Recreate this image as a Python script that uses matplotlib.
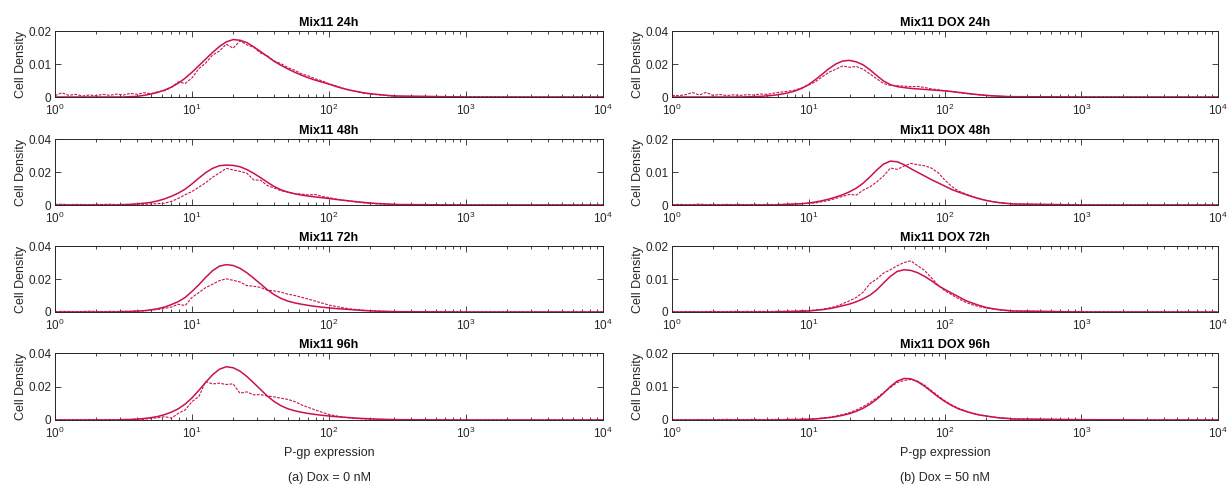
import numpy as np
import matplotlib
matplotlib.use("Agg")
import matplotlib.pyplot as plt
from matplotlib.ticker import LogLocator, FixedLocator, FuncFormatter, NullFormatter, NullLocator

plt.rcParams["font.family"] = ["Liberation Sans", "DejaVu Sans"]
plt.rcParams["mathtext.fontset"] = "custom"
plt.rcParams["mathtext.rm"] = "Liberation Sans"
plt.rcParams["mathtext.it"] = "Liberation Sans:italic"

RED = "#c8124c"
INK = "#262626"

# x sample positions (log10 of P-gp expression) at which values were read
LOG_X = np.round(np.concatenate([np.arange(0, 2.51, 0.05), [3.0, 3.5, 4.0]]), 2)

# ── Dox = 0 nM ───────────────────────────────────────────────────────────────
L24_FIT = [0, 0, 0, 0, 0, 0, 0, 0, 0, 0, 0,
           0.0001, 0.0002, 0.0005, 0.0009, 0.0014, 0.0021, 0.0030, 0.0042, 0.0057,
           0.0075, 0.0095, 0.0115, 0.0135, 0.0153, 0.0167, 0.0174, 0.0172, 0.0165, 0.0152,
           0.0138, 0.0123, 0.0108, 0.0096, 0.0085, 0.0075, 0.0066, 0.0058, 0.0051, 0.0045,
           0.0039, 0.0032, 0.0026, 0.0021, 0.0017, 0.0013, 0.0010, 0.0008, 0.0006, 0.0004,
           0.0003, 0, 0, 0]
L24_DATA = [0.0004, 0.0013, 0.0005, 0.0008, 0.0003, 0.0006, 0.0004, 0.0008, 0.0005, 0.0009, 0.0006,
            0.0011, 0.0008, 0.0013, 0.0010, 0.0016, 0.0019, 0.0029, 0.0046, 0.0041,
            0.0058, 0.0086, 0.0103, 0.0127, 0.0139, 0.0160, 0.0148, 0.0170, 0.0158, 0.0151,
            0.0133, 0.0125, 0.0109, 0.0101, 0.0089, 0.0081, 0.0070, 0.0064, 0.0055, 0.0049,
            0.0040, 0.0034, 0.0027, 0.0021, 0.0016, 0.0012, 0.0009, 0.0007, 0.0005, 0.0003,
            0.0002, 0.0001, 0, 0]

L48_FIT = [0, 0, 0, 0, 0, 0, 0, 0, 0, 0, 0.0002,
           0.0004, 0.0007, 0.0011, 0.0016, 0.0025, 0.0037, 0.0053, 0.0072, 0.0096,
           0.0128, 0.0163, 0.0196, 0.0222, 0.0238, 0.0242, 0.0240, 0.0232, 0.0215, 0.0192,
           0.0166, 0.0138, 0.0112, 0.0092, 0.0078, 0.0068, 0.0060, 0.0054, 0.0049, 0.0044,
           0.0039, 0.0034, 0.0029, 0.0025, 0.0020, 0.0016, 0.0012, 0.0009, 0.0007, 0.0005,
           0.0003, 0, 0, 0]
L48_DATA = [0.0003, 0.0005, 0.0002, 0.0004, 0.0003, 0.0002, 0.0004, 0.0003, 0.0005, 0.0002, 0.0004,
            0.0003, 0.0005, 0.0004, 0.0006, 0.0008, 0.0011, 0.0022, 0.0040, 0.0062,
            0.0082, 0.0108, 0.0135, 0.0168, 0.0195, 0.0222, 0.0212, 0.0204, 0.0193, 0.0152,
            0.0150, 0.0118, 0.0103, 0.0086, 0.0078, 0.0069, 0.0066, 0.0061, 0.0064, 0.0052,
            0.0045, 0.0036, 0.0030, 0.0023, 0.0018, 0.0013, 0.0010, 0.0007, 0.0005, 0.0004,
            0.0002, 0.0001, 0, 0]

L72_FIT = [0, 0, 0, 0, 0, 0, 0, 0, 0, 0, 0.0002,
           0.0003, 0.0005, 0.0008, 0.0013, 0.0020, 0.0030, 0.0045, 0.0063, 0.0088,
           0.0125, 0.0165, 0.0210, 0.0250, 0.0278, 0.0287, 0.0282, 0.0265, 0.0238, 0.0205,
           0.0170, 0.0135, 0.0105, 0.0082, 0.0066, 0.0055, 0.0047, 0.0040, 0.0034, 0.0029,
           0.0025, 0.0021, 0.0018, 0.0015, 0.0012, 0.0009, 0.0007, 0.0005, 0.0004, 0.0003,
           0.0002, 0, 0, 0]
L72_DATA = [0.0002, 0.0004, 0.0003, 0.0002, 0.0003, 0.0005, 0.0003, 0.0002, 0.0004, 0.0003, 0.0005,
            0.0004, 0.0008, 0.0006, 0.0011, 0.0015, 0.0022, 0.0030, 0.0047, 0.0039,
            0.0088, 0.0118, 0.0148, 0.0168, 0.0190, 0.0201, 0.0192, 0.0182, 0.0160, 0.0156,
            0.0149, 0.0132, 0.0128, 0.0120, 0.0108, 0.0100, 0.0089, 0.0078, 0.0066, 0.0054,
            0.0042, 0.0034, 0.0026, 0.0019, 0.0015, 0.0011, 0.0008, 0.0006, 0.0004, 0.0003,
            0.0002, 0.0001, 0, 0]

L96_FIT = [0, 0, 0, 0, 0, 0, 0, 0, 0, 0, 0.0002,
           0.0003, 0.0005, 0.0009, 0.0014, 0.0021, 0.0032, 0.0047, 0.0067, 0.0095,
           0.0132, 0.0177, 0.0225, 0.0270, 0.0303, 0.0318, 0.0312, 0.0292, 0.0260, 0.0222,
           0.0182, 0.0143, 0.0110, 0.0085, 0.0067, 0.0055, 0.0046, 0.0039, 0.0033, 0.0028,
           0.0024, 0.0020, 0.0017, 0.0014, 0.0011, 0.0009, 0.0007, 0.0005, 0.0004, 0.0003,
           0.0002, 0, 0, 0]
L96_DATA = [0.0001, 0.0002, 0.0001, 0.0002, 0.0001, 0.0003, 0.0002, 0.0001, 0.0003, 0.0002, 0.0004,
            0.0003, 0.0006, 0.0004, 0.0010, 0.0013, 0.0020, 0.0011, 0.0040, 0.0060,
            0.0110, 0.0140, 0.0230, 0.0215, 0.0220, 0.0212, 0.0216, 0.0160, 0.0168, 0.0150,
            0.0152, 0.0143, 0.0138, 0.0130, 0.0123, 0.0110, 0.0090, 0.0075, 0.0060, 0.0046,
            0.0033, 0.0025, 0.0017, 0.0013, 0.0009, 0.0007, 0.0005, 0.0004, 0.0003, 0.0002,
            0.0001, 0, 0, 0]

# ── Dox = 50 nM ──────────────────────────────────────────────────────────────
D24_FIT = [0, 0, 0, 0, 0, 0, 0, 0, 0, 0, 0,
           0.0001, 0.0002, 0.0004, 0.0007, 0.0011, 0.0017, 0.0025, 0.0036, 0.0052,
           0.0075, 0.0105, 0.0138, 0.0172, 0.0200, 0.0218, 0.0222, 0.0213, 0.0195, 0.0165,
           0.0130, 0.0097, 0.0075, 0.0063, 0.0057, 0.0052, 0.0049, 0.0046, 0.0043, 0.0040,
           0.0037, 0.0033, 0.0028, 0.0023, 0.0018, 0.0014, 0.0010, 0.0007, 0.0005, 0.0003,
           0.0002, 0, 0, 0]
D24_DATA = [0.0010, 0.0008, 0.0014, 0.0027, 0.0012, 0.0028, 0.0010, 0.0015, 0.0009, 0.0013, 0.0010,
            0.0014, 0.0012, 0.0018, 0.0016, 0.0024, 0.0030, 0.0035, 0.0042, 0.0055,
            0.0072, 0.0092, 0.0122, 0.0150, 0.0168, 0.0188, 0.0180, 0.0185, 0.0168, 0.0140,
            0.0110, 0.0082, 0.0070, 0.0068, 0.0066, 0.0063, 0.0064, 0.0058, 0.0049, 0.0044,
            0.0038, 0.0033, 0.0027, 0.0022, 0.0017, 0.0013, 0.0009, 0.0007, 0.0005, 0.0003,
            0.0002, 0.0001, 0, 0]

D48_FIT = [0, 0, 0, 0, 0, 0, 0, 0, 0, 0, 0, 0, 0, 0, 0, 0,
           0.0001, 0.0002, 0.0003, 0.0004,
           0.0006, 0.0009, 0.0013, 0.0018, 0.0024, 0.0031, 0.0040, 0.0051, 0.0066, 0.0085,
           0.0106, 0.0124, 0.0133, 0.0131, 0.0122, 0.0110, 0.0099, 0.0088, 0.0077, 0.0067,
           0.0057, 0.0047, 0.0039, 0.0032, 0.0025, 0.0019, 0.0014, 0.0010, 0.0007, 0.0005,
           0.0003, 0, 0, 0]
D48_DATA = [0.0001, 0.0002, 0.0001, 0.0001, 0.0003, 0.0001, 0.0002, 0.0001, 0.0002, 0.0001, 0.0002,
            0.0001, 0.0002, 0.0001, 0.0002, 0.0001, 0.0002, 0.0003, 0.0002, 0.0004,
            0.0005, 0.0006, 0.0010, 0.0014, 0.0020, 0.0026, 0.0032, 0.0030, 0.0045, 0.0055,
            0.0070, 0.0088, 0.0112, 0.0108, 0.0118, 0.0126, 0.0122, 0.0119, 0.0112, 0.0098,
            0.0075, 0.0056, 0.0042, 0.0034, 0.0026, 0.0020, 0.0014, 0.0010, 0.0007, 0.0005,
            0.0003, 0.0001, 0, 0]

D72_FIT = [0, 0, 0, 0, 0, 0, 0, 0, 0, 0, 0, 0, 0, 0, 0, 0,
           0.0001, 0.0001, 0.0002, 0.0002,
           0.0003, 0.0005, 0.0007, 0.0010, 0.0014, 0.0019, 0.0024, 0.0031, 0.0040, 0.0051,
           0.0067, 0.0088, 0.0108, 0.0123, 0.0128, 0.0126, 0.0119, 0.0108, 0.0095, 0.0080,
           0.0068, 0.0057, 0.0046, 0.0035, 0.0027, 0.0020, 0.0014, 0.0010, 0.0007, 0.0005,
           0.0003, 0, 0, 0]
D72_DATA = [0.0001, 0.0000, 0.0001, 0.0001, 0.0000, 0.0001, 0.0002, 0.0001, 0.0001, 0.0002, 0.0001,
            0.0002, 0.0001, 0.0002, 0.0001, 0.0002, 0.0002, 0.0003, 0.0002, 0.0004,
            0.0004, 0.0006, 0.0008, 0.0012, 0.0017, 0.0025, 0.0034, 0.0044, 0.0060, 0.0086,
            0.0100, 0.0118, 0.0128, 0.0140, 0.0150, 0.0155, 0.0140, 0.0126, 0.0104, 0.0081,
            0.0064, 0.0052, 0.0040, 0.0030, 0.0022, 0.0016, 0.0012, 0.0009, 0.0006, 0.0004,
            0.0003, 0.0001, 0, 0]

D96_FIT = [0, 0, 0, 0, 0, 0, 0, 0, 0, 0, 0, 0, 0, 0, 0, 0,
           0, 0.0001, 0.0001, 0.0001,
           0.0002, 0.0003, 0.0005, 0.0007, 0.0010, 0.0014, 0.0019, 0.0026, 0.0035, 0.0047,
           0.0062, 0.0080, 0.0100, 0.0116, 0.0124, 0.0123, 0.0114, 0.0101, 0.0085, 0.0069,
           0.0055, 0.0043, 0.0033, 0.0026, 0.0020, 0.0015, 0.0012, 0.0009, 0.0006, 0.0005,
           0.0003, 0.0001, 0, 0]
D96_DATA = [0.0001, 0.0000, 0.0001, 0.0000, 0.0001, 0.0001, 0.0000, 0.0001, 0.0002, 0.0001, 0.0001,
            0.0001, 0.0002, 0.0001, 0.0001, 0.0002, 0.0001, 0.0002, 0.0002, 0.0003,
            0.0003, 0.0004, 0.0006, 0.0008, 0.0012, 0.0016, 0.0022, 0.0030, 0.0040, 0.0052,
            0.0066, 0.0082, 0.0097, 0.0112, 0.0118, 0.0121, 0.0116, 0.0104, 0.0088, 0.0072,
            0.0057, 0.0045, 0.0035, 0.0027, 0.0021, 0.0016, 0.0012, 0.0009, 0.0007, 0.0005,
            0.0003, 0.0001, 0, 0]

LEFT_TITLES = ["Mix11 24h", "Mix11 48h", "Mix11 72h", "Mix11 96h"]
RIGHT_TITLES = ["Mix11 DOX 24h", "Mix11 DOX 48h", "Mix11 DOX 72h", "Mix11 DOX 96h"]
LEFT_FITS = [L24_FIT, L48_FIT, L72_FIT, L96_FIT]
LEFT_DATA = [L24_DATA, L48_DATA, L72_DATA, L96_DATA]
RIGHT_FITS = [D24_FIT, D48_FIT, D72_FIT, D96_FIT]
RIGHT_DATA = [D24_DATA, D48_DATA, D72_DATA, D96_DATA]
LEFT_YMAX = [0.02, 0.04, 0.04, 0.04]
RIGHT_YMAX = [0.04, 0.02, 0.02, 0.02]
CAPTIONS = ["(a) Dox = 0 nM", "(b) Dox = 50 nM"]

W, H = 1232, 486
fig = plt.figure(figsize=(W / 100, H / 100), dpi=100)

COLS = [(55, 548), (672, 546)]            # left px, width px
ROWS = [(31, 97), (139, 205), (246, 312), (353, 420)]  # top px, bottom px


def yfmt(v, pos):
    return "0" if v == 0 else f"{v:g}"


def panel(col, row, title, fit, data, ymax):
    x0, w = COLS[col]
    top, bot = ROWS[row]
    ax = fig.add_axes([x0 / W, 1 - bot / H, w / W, (bot - top) / H])
    x = 10 ** LOG_X
    ax.plot(x, fit, color=RED, lw=1.1, solid_joinstyle="round")
    ax.plot(x, data, color=RED, lw=0.8, ls=(0, (2.5, 1.2)))
    ax.set_xscale("log")
    ax.set_xlim(1, 1e4)
    ax.set_ylim(0, ymax)
    ax.xaxis.set_major_locator(LogLocator(base=10, numticks=10))
    ax.xaxis.set_minor_locator(LogLocator(base=10, subs=np.arange(2, 10), numticks=50))
    ax.xaxis.set_minor_formatter(NullFormatter())
    ax.yaxis.set_major_locator(FixedLocator([0, ymax / 2, ymax]))
    ax.yaxis.set_major_formatter(FuncFormatter(yfmt))
    ax.yaxis.set_minor_locator(NullLocator())
    ax.tick_params(which="both", direction="in", top=True, right=True,
                   color=INK, labelcolor=INK, labelsize=8.5, width=0.6)
    ax.tick_params(which="major", length=4.0)
    ax.tick_params(which="minor", length=2.3)
    ax.tick_params(axis="x", which="major", pad=4.5)
    ax.tick_params(axis="y", which="major", pad=2.5)
    for s in ax.spines.values():
        s.set_color(INK)
        s.set_linewidth(0.7)
    ax.set_title(title, fontsize=9, fontweight="bold", pad=3.5)
    ax.set_ylabel("Cell Density", fontsize=9, color=INK)
    ax.yaxis.set_label_coords(-0.052, 0.5)
    if row == 3:
        ax.set_xlabel("P-gp expression", fontsize=9, color=INK, labelpad=4)
    return ax


for r in range(4):
    panel(0, r, LEFT_TITLES[r], LEFT_FITS[r], LEFT_DATA[r], LEFT_YMAX[r])
    panel(1, r, RIGHT_TITLES[r], RIGHT_FITS[r], RIGHT_DATA[r], RIGHT_YMAX[r])

fig.text(329 / W, 1 - 478 / H, CAPTIONS[0], ha="center", va="center", fontsize=9, color=INK)
fig.text(945 / W, 1 - 478 / H, CAPTIONS[1], ha="center", va="center", fontsize=9, color=INK)

fig.savefig("out.png", dpi=100)
